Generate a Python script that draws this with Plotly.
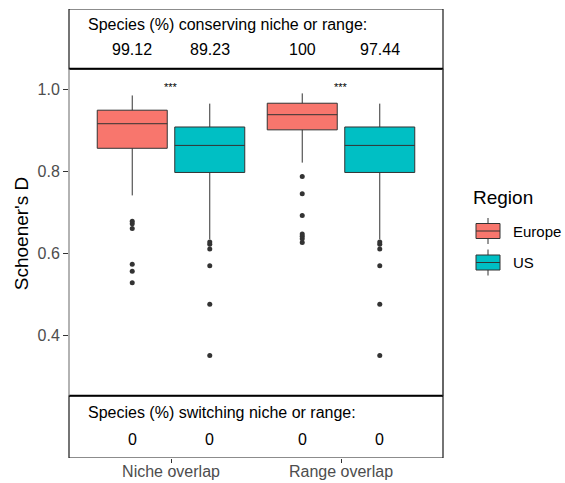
import plotly.graph_objects as go

categories = ["Niche overlap", "Range overlap"]
regions = ["Europe", "US"]
colors = {"Europe": "#F8766D", "US": "#00BFC4"}

# box statistics per region, per category
q1 = {"Europe": [0.856, 0.901], "US": [0.797, 0.797]}
median = {"Europe": [0.916, 0.938], "US": [0.863, 0.863]}
q3 = {"Europe": [0.949, 0.966], "US": [0.908, 0.908]}
lowerfence = {"Europe": [0.741, 0.821], "US": [0.634, 0.634]}
upperfence = {"Europe": [0.985, 0.990], "US": [0.965, 0.965]}
outliers = {
    "Europe": [[0.678, 0.672, 0.660, 0.573, 0.556, 0.528],
               [0.787, 0.745, 0.692, 0.647, 0.641, 0.635, 0.626]],
    "US": [[0.627, 0.622, 0.610, 0.569, 0.475, 0.350],
           [0.627, 0.622, 0.610, 0.569, 0.475, 0.350]],
}

conserving = {"Europe": ["99.12", "100"], "US": ["89.23", "97.44"]}
switching = {"Europe": ["0", "0"], "US": ["0", "0"]}
signif = ["***", "***"]

y_ticks = [0.4, 0.6, 0.8, 1.0]
y_range = [0.100, 1.196]
top_sep = 1.05
bot_sep = 0.252

W, H = 565, 483
ML, MR, MT, MB = 69, 122, 9, 25
PW, PH = W - ML - MR, H - MT - MB

BOXGAP = 0.088
BOXGROUPGAP = 0.097
offset = (1 - BOXGAP) / 4
FONT = "Liberation Sans, Arial, sans-serif"


def px(xp):
    return (xp - ML) / PW


def py(yp):
    return (H - MB - yp) / PH


fig = go.Figure()
for r in regions:
    fig.add_trace(go.Box(
        name=r,
        x=categories,
        y=outliers[r],
        q1=q1[r], median=median[r], q3=q3[r],
        lowerfence=lowerfence[r], upperfence=upperfence[r],
        boxpoints="outliers",
        fillcolor=colors[r],
        line=dict(color="#333333", width=1),
        marker=dict(color="#333333", size=5, outliercolor="#333333",
                    line=dict(width=0)),
        whiskerwidth=0,
        showlegend=False,
    ))

annotations = []
annotations.append(dict(xref="paper", yref="y", x=0.045, y=1.157, xanchor="left",
                        yanchor="middle", text="Species (%) conserving niche or range:",
                        showarrow=False, font=dict(size=16, color="black", family=FONT)))
annotations.append(dict(xref="paper", yref="y", x=0.045, y=0.212, xanchor="left",
                        yanchor="middle", text="Species (%) switching niche or range:",
                        showarrow=False, font=dict(size=16, color="black", family=FONT)))
for ci, c in enumerate(categories):
    for ri, r in enumerate(regions):
        xpos = ci + (-offset if ri == 0 else offset)
        annotations.append(dict(xref="x", yref="y", x=xpos, y=1.096, text=conserving[r][ci],
                                showarrow=False, font=dict(size=16, color="black", family=FONT)))
        annotations.append(dict(xref="x", yref="y", x=xpos, y=0.146, text=switching[r][ci],
                                showarrow=False, font=dict(size=16, color="black", family=FONT)))
    annotations.append(dict(xref="x", yref="y", x=ci, y=1.005, text=signif[ci],
                            showarrow=False, font=dict(size=11, color="black", family=FONT)))

shapes = [
    dict(type="rect", xref="paper", yref="y", x0=0, x1=1, y0=top_sep, y1=y_range[1],
         line=dict(color="#1a1a1a", width=1.2)),
    dict(type="rect", xref="paper", yref="y", x0=0, x1=1, y0=y_range[0], y1=bot_sep,
         line=dict(color="#1a1a1a", width=1.2)),
    dict(type="line", xref="paper", yref="y", x0=0, x1=1, y0=top_sep, y1=top_sep,
         line=dict(color="black", width=2)),
    dict(type="line", xref="paper", yref="y", x0=0, x1=1, y0=bot_sep, y1=bot_sep,
         line=dict(color="black", width=2)),
    dict(type="line", xref="paper", yref="y", x0=0, x1=0, y0=bot_sep, y1=top_sep,
         line=dict(color="#808080", width=1.2)),
    dict(type="line", xref="paper", yref="y", x0=1, x1=1, y0=bot_sep, y1=top_sep,
         line=dict(color="#333333", width=1.5)),
]

# legend (ggplot-style boxplot keys)
annotations.append(dict(xref="paper", yref="paper", x=px(471), y=py(198), xanchor="left",
                        yanchor="middle", text="Region", showarrow=False,
                        font=dict(size=19, color="black", family=FONT)))
for i, r in enumerate(regions):
    cy = 231 + 31.5 * i
    shapes.append(dict(type="line", xref="paper", yref="paper", x0=px(488), x1=px(488),
                       y0=py(cy - 13), y1=py(cy + 13), line=dict(color="#333333", width=1)))
    shapes.append(dict(type="rect", xref="paper", yref="paper", x0=px(476), x1=px(500),
                       y0=py(cy - 7.5), y1=py(cy + 7.5), fillcolor=colors[r],
                       line=dict(color="#333333", width=1)))
    shapes.append(dict(type="line", xref="paper", yref="paper", x0=px(476), x1=px(500),
                       y0=py(cy), y1=py(cy), line=dict(color="#333333", width=1)))
    annotations.append(dict(xref="paper", yref="paper", x=px(511), y=py(cy), xanchor="left",
                            yanchor="middle", text=r, showarrow=False,
                            font=dict(size=15, color="black", family=FONT)))

fig.update_layout(
    width=W, height=H,
    margin=dict(l=ML, r=MR, t=MT, b=MB, autoexpand=False),
    plot_bgcolor="white", paper_bgcolor="white",
    boxmode="group", boxgap=BOXGAP, boxgroupgap=BOXGROUPGAP,
    font=dict(family=FONT, size=16, color="black"),
    showlegend=False,
    xaxis=dict(type="category", range=[-0.6, 1.6], showgrid=False, zeroline=False,
               showline=False, ticks="outside", ticklen=4, tickcolor="#333333",
               tickfont=dict(size=16, color="#4D4D4D"), automargin=False,
               ticklabelstandoff=-5),
    yaxis=dict(range=y_range, tickvals=y_ticks, ticktext=[f"{v:.1f}" for v in y_ticks],
               showgrid=False, zeroline=False, showline=False, ticks="outside",
               ticklen=5, tickcolor="#333333", tickfont=dict(size=16, color="#4D4D4D"),
               automargin=False,
               title=dict(text="Schoener's D", font=dict(size=19, color="black"), standoff=3)),
    annotations=annotations,
    shapes=shapes,
)

fig.write_html("out.html")
